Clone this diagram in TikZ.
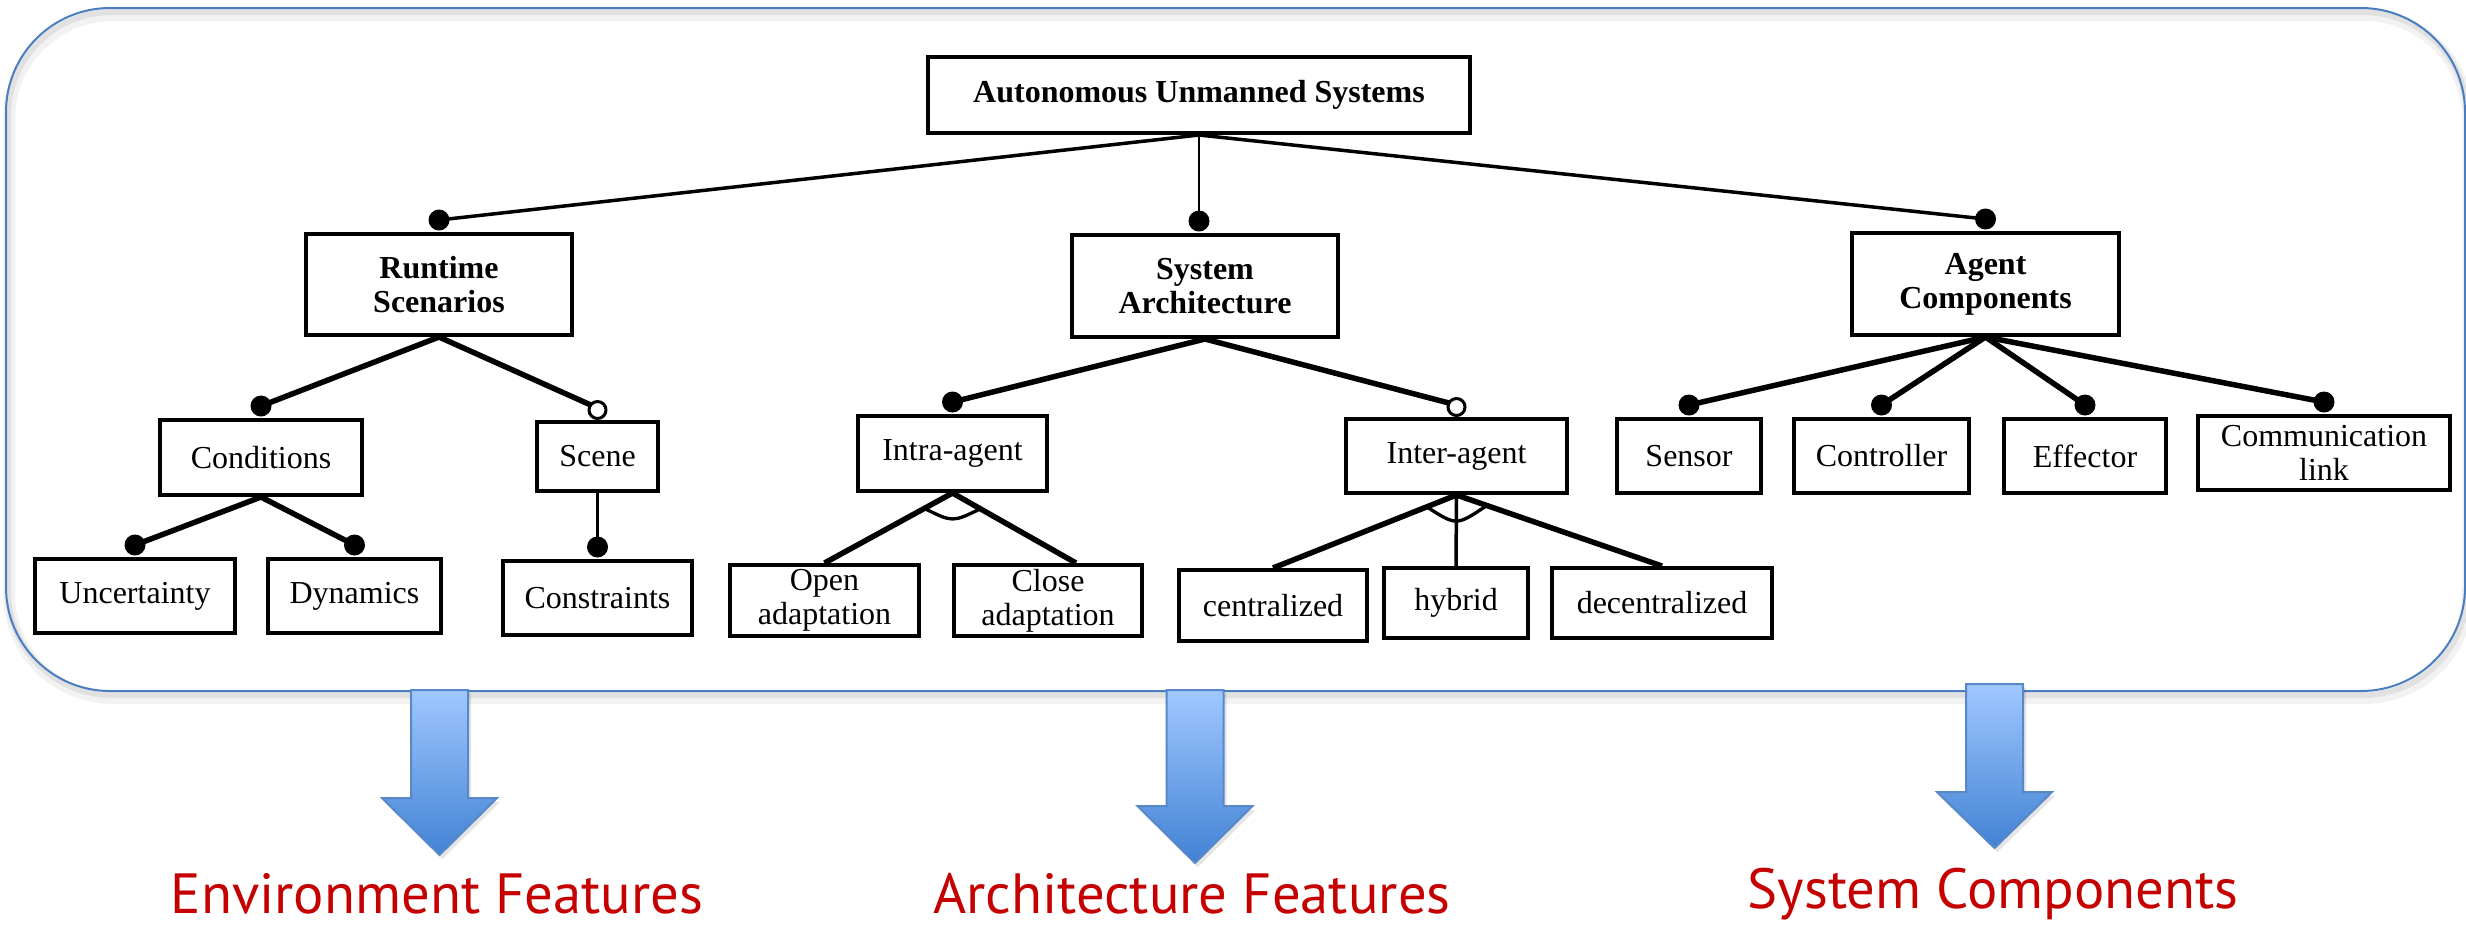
\documentclass[tikz,border=0pt]{standalone}
\usepackage{fontspec}
\setmainfont{Liberation Serif}
\newfontfamily\labelfont{PT Sans}
\usetikzlibrary{calc}

\definecolor{frameblue}{RGB}{74,126,193}
\definecolor{arrowtop}{RGB}{160,200,255}
\definecolor{arrowbot}{RGB}{66,130,212}
\definecolor{arrowedge}{RGB}{88,136,200}
\definecolor{labelred}{RGB}{196,0,0}

% block arrow pointing down: centre x, top y, y where the head starts, tip y
\newcommand\DownBlockArrow[4]{%
  \fill[black, opacity=0.10]
    (#1-25.5,#2+4) -- (#1-25.5,#3+4) -- (#1-54.5,#3+4) -- (#1+3,#4+4)
    -- (#1+60.5,#3+4) -- (#1+31.5,#3+4) -- (#1+31.5,#2+4) -- cycle;
  \path[draw=arrowedge, line width=0.6pt, top color=arrowtop, bottom color=arrowbot]
    (#1-28.5,#2) -- (#1-28.5,#3) -- (#1-57.5,#3) -- (#1,#4)
    -- (#1+57.5,#3) -- (#1+28.5,#3) -- (#1+28.5,#2) -- cycle;
}

\begin{document}
\begin{tikzpicture}[x=0.3pt, y=-0.3pt,
  box/.style={draw, line width=1.2pt, inner sep=0pt, align=center,
    font=\fontsize{9.6}{10.2}\selectfont},
  bbox/.style={box, font=\fontsize{9.6}{10.2}\selectfont\bfseries},
  wh/.style 2 args={minimum width=#1*0.3pt, minimum height=#2*0.3pt},
  topconn/.style={line width=1.05pt},
  rootvert/.style={line width=0.75pt},
  subconn/.style={line width=1.65pt},
  vconn/.style={line width=1.05pt},
  arcline/.style={line width=1pt},
  mandatory/.style={fill=black},
  optional/.style={draw=black, fill=white, line width=0.9pt},
  lab/.style={text=labelred, inner sep=0pt, anchor=base,
    font=\labelfont\fontsize{17}{20}\selectfont}
]
\useasboundingbox (0,0) rectangle (2466,933);

% frame with soft shadow
\draw[black, opacity=0.05, line width=3.6pt, rounded corners=31.2pt] (9,15) rectangle (2468,698);
\draw[black, opacity=0.07, line width=1.8pt, rounded corners=31.2pt] (8,12) rectangle (2467,695);
\draw[frameblue, line width=0.6pt, rounded corners=31.2pt] (6,8) rectangle (2465,691);

% feature boxes
\node[bbox, wh={542}{76}] (root) at (1199,95) {Autonomous Unmanned Systems};
\node[bbox, wh={266}{101}] (run) at (439,284.5) {Runtime\\Scenarios};
\node[bbox, wh={266}{102}] (arch) at (1205,286) {System\\Architecture};
\node[bbox, wh={267}{102}] (agent) at (1985.5,284) {Agent\\Components};

\node[box, wh={202}{75}] (cond) at (261,457.5) {Conditions};
\node[box, wh={121}{69}] (scene) at (597.5,456.5) {Scene};
\node[box, wh={189}{75}] (intra) at (952.5,453.5) {Intra-agent};
\node[box, wh={221}{74}] (inter) at (1456.5,456) {Inter-agent};
\node[box, wh={144}{74}] (sensor) at (1689,456) {Sensor};
\node[box, wh={175}{74}] (ctrl) at (1881.5,456) {Controller};
\node[box, wh={162}{74}] (eff) at (2085,456) {Effector};
\node[box, wh={252}{74}] (comm) at (2324,453) {Communication\\link};

\node[box, wh={200}{74}] (unc) at (135,596) {Uncertainty};
\node[box, wh={173}{74}] (dyn) at (354.5,596) {Dynamics};
\node[box, wh={189}{74}] (cons) at (597.5,598) {Constraints};
\node[box, wh={189}{71}] (open) at (824.5,600.5) {Open\\adaptation};
\node[box, wh={188}{71}] (close) at (1048,600.5) {Close\\adaptation};
\node[box, wh={188}{71}] (cent) at (1273,605.5) {centralized};
\node[box, wh={144}{70}] (hyb) at (1456,603) {hybrid};
\node[box, wh={220}{70}] (dec) at (1662,603) {decentralized};

% connector end points sitting on top of the child boxes
\foreach \n in {run,agent,cond,scene,intra,inter,sensor,ctrl,eff,comm,unc,dyn,cons}
  \coordinate (\n-dot) at ($(\n.north)+(0,-12)$);
\coordinate (arch-dot) at ($(root.south |- arch.north)+(0,-12)$);
\coordinate (close-end) at ($(close.north)+(28,0)$);

% level 1
\draw[topconn] (root.south) -- (run-dot);
\draw[rootvert] (root.south) -- (arch-dot);
\draw[topconn] (root.south) -- (agent-dot);

% level 2
\draw[subconn] (run.south) -- (cond-dot);
\draw[subconn] (run.south) -- (scene-dot);
\draw[subconn] (arch.south) -- (intra-dot);
\draw[subconn] (arch.south) -- (inter-dot);
\draw[subconn] (agent.south) -- (sensor-dot);
\draw[subconn] (agent.south) -- (ctrl-dot);
\draw[subconn] (agent.south) -- (eff-dot);
\draw[subconn] (agent.south) -- (comm-dot);

% level 3
\draw[subconn] (cond.south) -- (unc-dot);
\draw[subconn] (cond.south) -- (dyn-dot);
\draw[vconn] (scene.south) -- (cons-dot);

% alternative groups
\draw[subconn] (intra.south) -- (open.north);
\draw[subconn] (intra.south) -- (close-end);
\draw[arcline] ($(intra.south)!9.6pt!(open.north)$)
  .. controls ($(intra.south)+(0,29.4)$) .. ($(intra.south)!9.6pt!(close-end)$);

\draw[subconn] (inter.south) -- (cent.north);
\draw[vconn] (inter.south) -- (hyb.north);
\draw[subconn] (inter.south) -- (dec.north);
\draw[arcline] ($(inter.south)!9.6pt!(cent.north)$)
  .. controls ($(inter.south)+(0,31)$) .. ($(inter.south)!9.6pt!(dec.north)$);

% mandatory and optional markers
\foreach \n in {run,arch,agent,cond,intra,sensor,ctrl,eff,comm,unc,dyn,cons}
  \fill[mandatory] (\n-dot) circle[radius=3.15pt];
\foreach \n in {scene,inter}
  \draw[optional] ($(\n-dot)+(0,2)$) circle[radius=2.55pt];

% block arrows
\DownBlockArrow{439.5}{690}{798}{855}
\DownBlockArrow{1195}{690}{806}{863}
\DownBlockArrow{1994.5}{684}{792}{848}

% captions
\node[lab] (envlab) at (437,913) {Environment Features};
\node[lab] (archlab) at (1192,913) {Architecture Features};
\node[lab] (syslab) at (1993,908) {System Components};
\end{tikzpicture}
\end{document}
